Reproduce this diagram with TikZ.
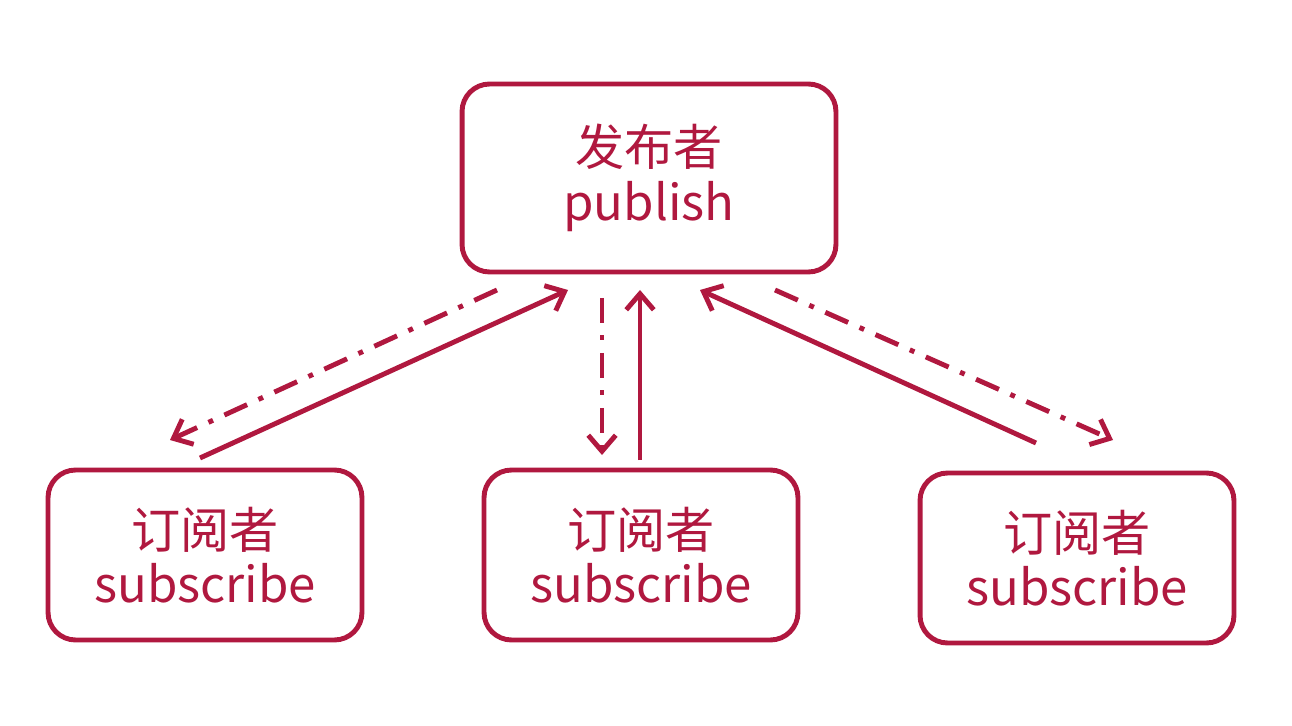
\documentclass[tikz,border=0pt]{standalone}
\usepackage{fontspec}
\setmainfont{Noto Sans CJK SC}
\usetikzlibrary{arrows.meta}
\definecolor{crim}{HTML}{B0183F}
\begin{document}
\begin{tikzpicture}[x=0.02cm,y=-0.02cm,
  box/.style={draw=crim,line width=2.8pt,rounded corners=0.55cm,text=crim,align=center,font=\fontsize{28}{31}\selectfont,inner sep=0pt},
  link/.style={draw=crim,line width=2.8pt,-{Straight Barb[length=0.32cm,width=0.55cm,line width=2.8pt]}},
  dd/.style={link,dash pattern=on 0.5cm off 0.25cm on 0.1cm off 0.25cm}]
\useasboundingbox (0,0) rectangle (1292,726);
\node[box,minimum width=7.48cm,minimum height=3.76cm] (pub) at (649,178) {发布者\\publish};
\node[box,minimum width=6.28cm,minimum height=3.4cm] (s1) at (205,555) {订阅者\\subscribe};
\node[box,minimum width=6.28cm,minimum height=3.4cm] (s2) at (641,555) {订阅者\\subscribe};
\node[box,minimum width=6.28cm,minimum height=3.4cm] (s3) at (1077,558) {订阅者\\subscribe};
\coordinate (a1) at (497,290); \coordinate (a2) at (170,440);
\coordinate (b1) at (200,458); \coordinate (b2) at (568,290);
\coordinate (c1) at (602,298); \coordinate (c2) at (602,455);
\coordinate (d1) at (640,460); \coordinate (d2) at (640,290);
\coordinate (e1) at (1036,443); \coordinate (e2) at (700,290);
\coordinate (f1) at (775,290); \coordinate (f2) at (1113,440);
\draw[dd] (a1) -- (a2);
\draw[link] (b1) -- (b2);
\draw[dd] (c1) -- (c2);
\draw[link] (d1) -- (d2);
\draw[link] (e1) -- (e2);
\draw[dd] (f1) -- (f2);
\end{tikzpicture}
\end{document}
